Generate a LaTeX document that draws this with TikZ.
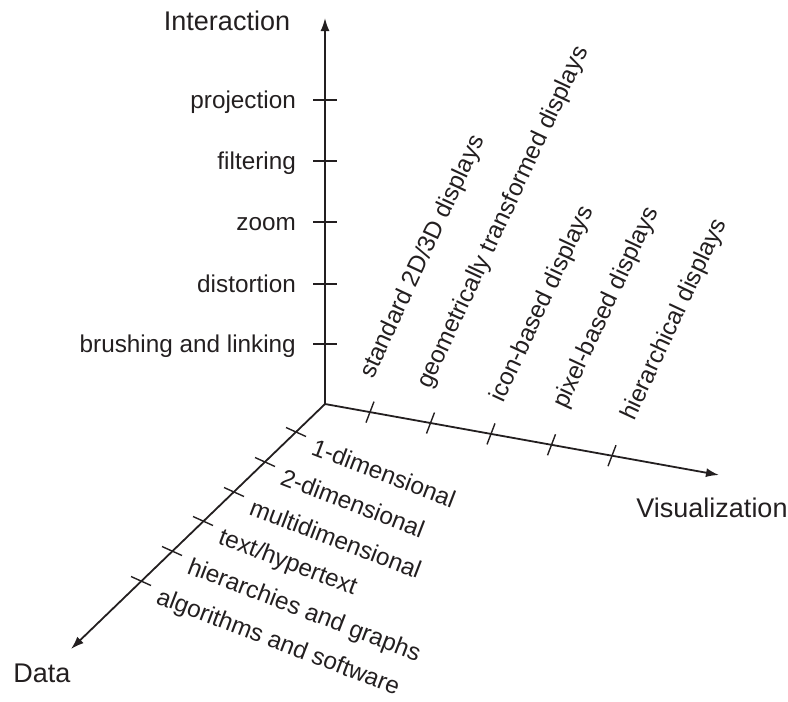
\documentclass[tikz,border=0pt]{standalone}
\usepackage{fontspec}
\setmainfont{Liberation Sans}
\usetikzlibrary{arrows.meta}
\definecolor{ink}{RGB}{35,31,32}
\begin{document}
\begin{tikzpicture}[x=1pt,y=-1pt,
  axis/.style={draw=ink, line width=1.8pt, -{Latex[length=13pt,width=9pt]}},
  tickmark/.style={draw=ink, line width=1.4pt},
  ticklabel/.style={font=\fontsize{24.3}{29}\selectfont, inner sep=0pt, text=ink},
  axistitle/.style={font=\fontsize{27}{32}\selectfont, inner sep=0pt, text=ink}]
\useasboundingbox (0,0) rectangle (788,702);

% axis end points
\coordinate (O) at (325,404);
\coordinate (Itop) at (325,18);
\coordinate (Vend) at (719,475);
\coordinate (Dend) at (71,649);

\draw[axis] (O) -- (Itop);
\draw[axis] (O) -- (Vend);
\draw[axis] (O) -- (Dend);

% axis titles
\node[axistitle] (interaction) at (227,21) {Interaction};
\node[axistitle] (visualization) at (712,508) {Visualization};
\node[axistitle] (data) at (42,673) {Data};

% interaction techniques
\foreach \i/\y/\txt in {1/344/brushing and linking, 2/284/distortion, 3/222/zoom, 4/161/filtering, 5/100/projection} {
  \coordinate (it\i) at (325,\y);
  \draw[tickmark] (it\i) ++(-12,0) -- ++(24,0);
  \node[ticklabel, anchor=base east] (il\i) at (296,\y+8) {\txt};
}

% visualization techniques
\foreach \i/\x/\y/\lx/\ly/\txt in {
  1/370/412.1/373/380/{standard 2D/3D displays},
  2/430.5/423.0/430/390/{geometrically transformed displays},
  3/491/433.9/503/404/{icon-based displays},
  4/551.5/444.8/566/410/{pixel-based displays},
  5/612/455.7/634/422/{hierarchical displays}} {
  \coordinate (vt\i) at (\x,\y);
  \draw[tickmark] (vt\i) ++(4,-10.5) -- ++(-8,21);
  \node[ticklabel, anchor=base west, rotate=65] (vl\i) at (\lx,\ly) {\txt};
}

% data types
\foreach \i/\x/\y/\txt in {
  1/296/432/{1-dimensional},
  2/265/462/{2-dimensional},
  3/234/492/{multidimensional},
  4/203/521/{text/hypertext},
  5/172/551/{hierarchies and graphs},
  6/141/581/{algorithms and software}} {
  \coordinate (dt\i) at (\x,\y);
  \draw[tickmark] (dt\i) ++(-10,-4.5) -- ++(20,9);
  \node[ticklabel, anchor=base west, rotate=-21] (dl\i) at (\x+14,\y+22) {\txt};
}
\end{tikzpicture}
\end{document}
